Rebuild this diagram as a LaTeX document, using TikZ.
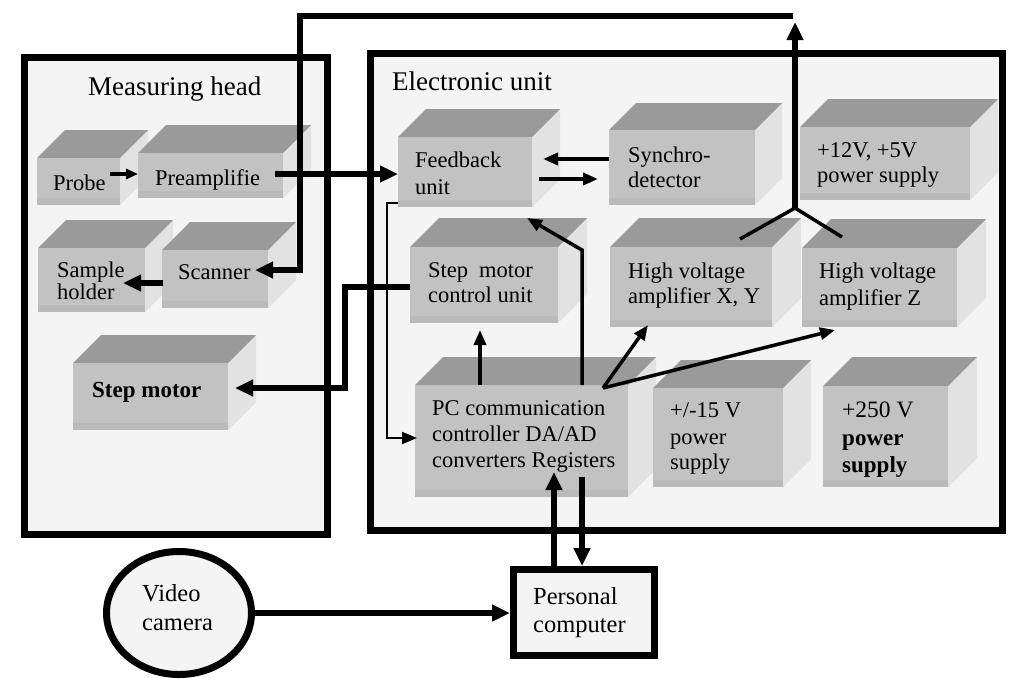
\documentclass[tikz,border=0pt]{standalone}
\usepackage{fontspec}
\setmainfont{Liberation Serif}
\usetikzlibrary{arrows.meta,shapes.geometric}
\definecolor{panel}{HTML}{F4F4F4}
\definecolor{frontc}{HTML}{C2C2C2}
\definecolor{topc}{HTML}{9A9A9A}
\definecolor{sidec}{HTML}{E2E2E2}
\definecolor{bandc}{HTML}{BABABA}
% #1 name, #2 x1, #3 y1, #4 x2, #5 y2, #6 depth
\newcommand\mybox[6]{%
  \pgfmathsetmacro\mybw{#4-#2}\pgfmathsetmacro\mybh{#5-#3}%
  \pgfmathsetmacro\mybcx{(#2+#4)/2}\pgfmathsetmacro\mybcy{(#3+#5)/2}%
  \fill[sidec] (#4,#3) -- ++(#6,-#6) -- ++(0,#5-#3) -- (#4,#5) -- cycle;
  \fill[topc] (#2,#3) -- ++(#6,-#6) -- ++(#4-#2,0) -- (#4,#3) -- cycle;
  \node[fill=frontc,inner sep=0pt,outer sep=0pt,minimum width=\mybw pt,minimum height=\mybh pt] (#1) at (\mybcx,\mybcy) {};
  \fill[bandc] (#2,#5-7) rectangle (#4,#5);
}
\begin{document}
\begin{tikzpicture}[x=1pt,y=-1pt,
  lbl/.style={anchor=base west,inner sep=0pt,font=\fontsize{22.5}{26}\selectfont},
  lblb/.style={anchor=base west,inner sep=0pt,font=\fontsize{23}{26}\selectfont\bfseries},
  head/.style={anchor=base west,inner sep=0pt,font=\fontsize{27}{30}\selectfont},
  big/.style={anchor=base west,inner sep=0pt,font=\fontsize{24.5}{28}\selectfont},
  panelbox/.style={draw=black,line width=7pt,fill=panel,inner sep=0pt},
  wthick/.style={line width=5.5pt},
  wmed/.style={line width=3.5pt},
  wthin/.style={line width=2.2pt},
  tipL/.style={-{Triangle[length=18pt,width=16pt]}},
  tipM/.style={-{Triangle[length=15pt,width=12pt]}},
  tipS/.style={-{Triangle[length=12pt,width=10pt]}},
]
\useasboundingbox (0,0) rectangle (1024,689);
\fill[white] (0,0) rectangle (1024,689);

% containers
\node[panelbox,minimum width=303pt,minimum height=477pt] (mh) at (175.5,295.5) {};
\node[panelbox,minimum width=632pt,minimum height=477pt] (eu) at (686,291.5) {};
\node[head] (mht) at (88,95) {Measuring head};
\node[head] (eut) at (392,90) {Electronic unit};

% measuring head boxes
\mybox{probe}{37}{158}{120}{205}{28}
\mybox{pre}{138}{153}{283}{198}{28}
\mybox{samp}{38}{248}{145}{312}{28}
\mybox{scan}{162}{250}{268}{308}{28}
\mybox{smot}{73}{363}{228}{430}{28}

% electronic unit boxes
\mybox{fb}{398}{137}{532}{207}{28}
\mybox{sync}{609}{130}{755}{205}{27}
\mybox{ps12}{800}{127}{970}{200}{28}
\mybox{smc}{410}{247}{558}{323}{29}
\mybox{hvxy}{610}{247}{772}{327}{29}
\mybox{hvz}{802}{248}{957}{327}{29}
\mybox{pcc}{415}{385}{628}{497}{28}
\mybox{ps15}{653}{388}{783}{487}{28}
\mybox{ps250}{823}{386}{948}{487}{29}

% camera and computer
\node[ellipse,draw=black,line width=7pt,fill=panel,inner sep=0pt,minimum width=145pt,minimum height=123pt] (cam) at (179,613) {};
\node[draw=black,line width=7pt,fill=panel,inner sep=0pt,minimum width=140.5pt,minimum height=86pt] (pc) at (583.75,612.5) {};

% texts
\node[lbl] (t1) at (53,190) {Probe};
\node[lbl] (t2) at (155,185) {Preamplifie};
\node[lbl] (t3a) at (57,277) {Sample};
\node[lbl] (t3b) at (57,299) {holder};
\node[lbl] (t4) at (178,279) {Scanner};
\node[lblb] (t5) at (92,397) {Step motor};
\node[lbl] (t6a) at (415,167) {Feedback};
\node[lbl] (t6b) at (415,194) {unit};
\node[lbl] (t7a) at (628,162) {Synchro-};
\node[lbl] (t7b) at (628,187) {detector};
\node[lbl] (t8a) at (817,157) {+12V, +5V};
\node[lbl] (t8b) at (817,182) {power supply};
\node[lbl] (t9a) at (428,277) {Step\hspace{11pt}motor};
\node[lbl] (t9b) at (428,302) {control unit};
\node[lbl] (t10a) at (628,278) {High voltage};
\node[lbl] (t10b) at (628,303) {amplifier X, Y};
\node[lbl] (t11a) at (819,278) {High voltage};
\node[lbl] (t11b) at (819,305) {amplifier Z};
\node[lbl] (t12a) at (432,415) {PC communication};
\node[lbl] (t12b) at (432,441) {controller DA/AD};
\node[lbl] (t12c) at (432,467) {converters Registers};
\node[lbl] (t13a) at (670,417) {+/-15 V};
\node[lbl] (t13b) at (670,444) {power};
\node[lbl] (t13c) at (670,469) {supply};
\node[lbl,font=\fontsize{23.5}{26}\selectfont] (t14a) at (842,417) {+250 V};
\node[lblb] (t14b) at (842,445) {power};
\node[lblb] (t14c) at (842,472) {supply};
\node[big] (t15a) at (142,601) {Video};
\node[big] (t15b) at (142,630) {camera};
\node[big] (t16a) at (533,604) {Personal};
\node[big] (t16b) at (533,632) {computer};

% connector coordinates
\coordinate (pr0) at (110,174);
\coordinate (pa0) at (275,174);
\coordinate (w1) at (793,16);
\coordinate (w2) at (300,16);
\coordinate (w3) at (300,270);
\coordinate (w4) at (255,270);
\coordinate (s0) at (163,283);
\coordinate (s1) at (123,283);
\coordinate (m0) at (345,287);
\coordinate (m1) at (345,388);
\coordinate (m2) at (235,388);
\coordinate (y0) at (609,159);
\coordinate (y1) at (543,159);
\coordinate (f0) at (539,179);
\coordinate (f1) at (598,179);
\coordinate (l0) at (398,203);
\coordinate (l1) at (387,203);
\coordinate (l2) at (387,438);
\coordinate (l3) at (417,438);
\coordinate (c0) at (480,385);
\coordinate (c1) at (480,330);
\coordinate (b0) at (582,385);
\coordinate (b1) at (582,250);
\coordinate (b2) at (527,218);
\coordinate (h0) at (603,388);
\coordinate (h1) at (648,325);
\coordinate (h2) at (835,330);
\coordinate (j0) at (795,208);
\coordinate (j1) at (740,239);
\coordinate (j2) at (842,237);
\coordinate (j3) at (795,22);
\coordinate (u0) at (554,472);
\coordinate (d0) at (582,477);

% connectors
\draw[wmed,tipS] (pr0) -- (pr0 -| pre.west);
\draw[wthick,tipL] (pa0) -- (pa0 -| fb.west);
\draw[wthick,tipL] (w1) -- (w2) -- (w3) -- (w4);
\draw[wthick,tipL] (s0) -- (s1);
\draw[wthick,tipL] (m0 -| smc.west) -- (m0) -- (m1) -- (m2);
\draw[wmed,tipM] (y0) -- (y1);
\draw[wmed,tipM] (f0) -- (f1);
\draw[wthin,tipM] (l0) -- (l1) -- (l2) -- (l3);
\draw[wmed,tipM] (c0) -- (c1);
\draw[wmed,tipM] (b0) -- (b1) -- (b2);
\draw[wmed,tipM] (h0) -- (h1);
\draw[wmed,tipM] (h0) -- (h2);
\draw[wmed] (j1) -- (j0) -- (j2);
\draw[wthick,tipL] (j0) -- (j3);
\draw[wthick,tipL] (u0 |- pc.north) -- (u0);
\draw[wthick,tipL] (d0) -- (d0 |- pc.north);
\draw[line width=6pt,tipL] (cam.east) -- (cam.east -| pc.west);
\end{tikzpicture}
\end{document}
